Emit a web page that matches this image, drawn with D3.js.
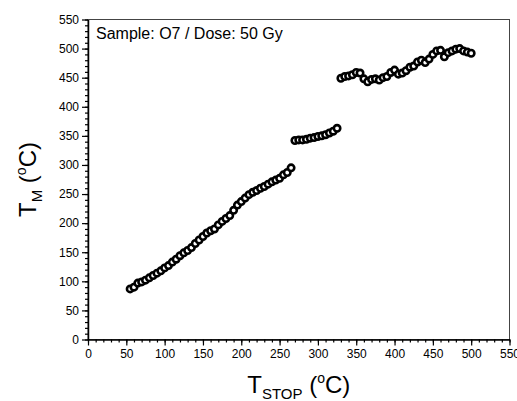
<!DOCTYPE html>
<html><head><meta charset="utf-8">
<script src="https://cdn.jsdelivr.net/npm/d3@7"></script>
<style>body{margin:0;background:#fff}svg{display:block}text{font-family:Arial,"Liberation Sans",sans-serif}</style>
</head><body>
<script>
// Data (T_STOP in °C, T_M in °C)
const seg1Stop = [55,60,65,70,75,80,85,90,95,100,105,110,115,120,125,130,135,140,145,150,155,160,165,170,175,180,185,190,195,200,205,210,215,220,225,230,235,240,245,250,255,260,265];
const seg1Tm   = [87,90,97,99,102,106,110,114,118,123,127,133,138,144,149,153,158,165,171,177,183,187,190,197,203,208,213,222,231,237,243,249,253,256,260,263,267,271,274,277,283,287,295];
const seg2Stop = [270,275,280,285,290,295,300,305,310,315,320,325];
const seg2Tm   = [342,343,343,344,346,347,349,350,352,355,358,363];
const seg3Stop = [330,335,340,345,350,355,360,365,370,375,380,385,390,395,400,405,410,415,420,425,430,435,440,445,450,455,460,465,470,475,480,485,490,495,500];
const seg3Tm   = [449,452,453,455,459,458,448,443,447,448,446,450,452,459,463,456,458,462,468,470,477,480,476,482,490,496,497,486,493,496,499,500,496,494,492];
const xTicks = [0,50,100,150,200,250,300,350,400,450,500,550];
const yTicks = [0,50,100,150,200,250,300,350,400,450,500,550];
const sampleLabel = "Sample: O7 / Dose: 50 Gy";

const W = 517, H = 401;
const m = {l:88, r:7.5, t:19.5, b:61.5};
const svg = d3.select("body").append("svg").attr("width",W).attr("height",H);
const x = d3.scaleLinear().domain([0,550]).range([m.l, W-m.r]);
const y = d3.scaleLinear().domain([0,550]).range([H-m.b, m.t]);

// frame
svg.append("rect").attr("x",m.l).attr("y",m.t).attr("width",x(550)-m.l).attr("height",y(0)-m.t)
  .attr("fill","none").attr("stroke","#444").attr("stroke-width",1);

// minor ticks
const minor = d3.range(0,551,10);
const xAxisMinor = d3.axisBottom(x).tickValues(minor).tickSize(3).tickFormat("");
const yAxisMinor = d3.axisLeft(y).tickValues(minor).tickSize(3).tickFormat("");
svg.append("g").attr("transform",`translate(0,${y(0)})`).call(xAxisMinor).call(g=>g.select(".domain").remove());
svg.append("g").attr("transform",`translate(${m.l},0)`).call(yAxisMinor).call(g=>g.select(".domain").remove());

const xAxis = d3.axisBottom(x).tickValues(xTicks).tickSize(6).tickSizeOuter(0).tickPadding(4);
const yAxis = d3.axisLeft(y).tickValues(yTicks).tickSize(6).tickSizeOuter(0).tickPadding(3);
const gx = svg.append("g").attr("transform",`translate(0,${y(0)})`).call(xAxis);
const gy = svg.append("g").attr("transform",`translate(${m.l},0)`).call(yAxis);
[gx,gy].forEach(g=>{
  g.selectAll("text").attr("font-size",12).attr("fill","#000").style("font-family","Arial, 'Liberation Sans', sans-serif");
  g.select(".domain").attr("stroke","#000").attr("stroke-width",1.5);
});
svg.selectAll(".tick line").attr("stroke","#000").attr("stroke-width",1.2);

// data points
const pts = [];
seg1Stop.forEach((v,i)=>pts.push([v,seg1Tm[i]]));
seg2Stop.forEach((v,i)=>pts.push([v,seg2Tm[i]]));
seg3Stop.forEach((v,i)=>pts.push([v,seg3Tm[i]]));
svg.append("g").selectAll("circle").data(pts).join("circle")
  .attr("cx",d=>x(d[0])).attr("cy",d=>y(d[1])).attr("r",3.2)
  .attr("fill","#fff").attr("stroke","#000").attr("stroke-width",2.6);

// annotation
svg.append("text").attr("x",96).attr("y",39).attr("font-size",16).text(sampleLabel);

// axis titles
const xt = svg.append("text").attr("x",(x(0)+x(550))/2).attr("y",393).attr("text-anchor","middle").attr("font-size",24);
xt.append("tspan").text("T");
xt.append("tspan").attr("font-size",15).attr("dy",6).text("STOP");
xt.append("tspan").attr("dy",-6).text(" (");
xt.append("tspan").attr("font-size",14).attr("dy",-10).text("o");
xt.append("tspan").attr("dy",10).text("C)");

const yt = svg.append("text").attr("transform",`translate(36,${(y(0)+y(550))/2}) rotate(-90)`).attr("text-anchor","middle").attr("font-size",24);
yt.append("tspan").text("T");
yt.append("tspan").attr("font-size",15).attr("dy",6).text("M");
yt.append("tspan").attr("dy",-6).text(" (");
yt.append("tspan").attr("font-size",14).attr("dy",-10).text("o");
yt.append("tspan").attr("dy",10).text("C)");
</script>
</body></html>
